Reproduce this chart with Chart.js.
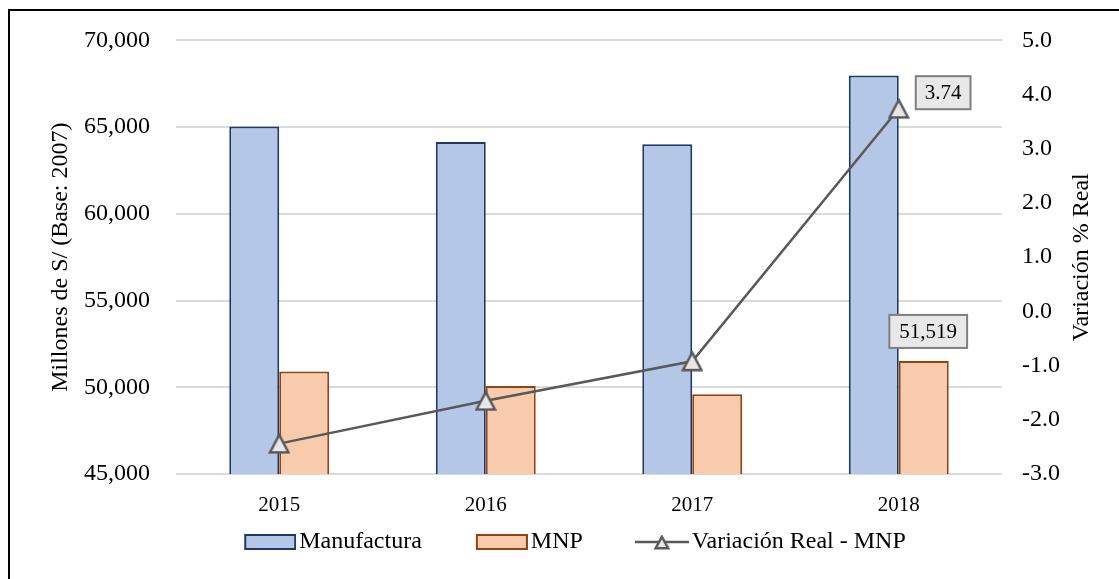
<!DOCTYPE html>
<html>
<head>
<meta charset="utf-8">
<script src="https://cdn.jsdelivr.net/npm/chart.js@4"></script>
<style>
  html, body { margin: 0; padding: 0; background: #fff; overflow: hidden; }
  #wrap { position: relative; width: 1119px; height: 579px; }
  #frame { position: absolute; left: 8px; top: 9px; width: 1200px; height: 700px;
           border-left: 2px solid #000; border-top: 2px solid #000; pointer-events: none; }
  #chart { position: absolute; left: 0; top: 0; }
</style>
</head>
<body>
<div id="wrap">
  <canvas id="chart" width="1119" height="579"></canvas>
  <div id="frame"></div>
</div>
<script>
var years = ['2015', '2016', '2017', '2018']
var manufactura = [65040, 64140, 64010, 67980]
var mnp = [50910, 50080, 49600, 51519]
var variacion = [-2.44, -1.65, -0.92, 3.74]

var leftTicks = [45000, 70000, 5000]   // min, max, step
var rightTicks = [-3, 5, 1]

var serif = '"Liberation Serif", "Times New Roman", serif'
Chart.defaults.font.family = serif
Chart.defaults.color = '#000'

var blueFill = '#b4c7e7', blueLine = '#203864'
var orangeFill = '#f8cbad', orangeLine = '#8f4413'
var lineGray = '#595959', markerFill = '#e7e7e7'

// triangle marker, centred on its bounding box
function makeTriangle(w, h, lw){
    var c = document.createElement('canvas')
    c.width = w; c.height = h
    var g = c.getContext('2d')
    var p = lw / 2 + 0.5
    g.beginPath()
    g.moveTo(w / 2, p)
    g.lineTo(w - p, h - p)
    g.lineTo(p, h - p)
    g.closePath()
    g.fillStyle = markerFill
    g.fill()
    g.lineWidth = lw
    g.lineJoin = 'miter'
    g.strokeStyle = lineGray
    g.stroke()
    return c
}
var marker = makeTriangle(22, 21, 2.5)

// legend icons: drawn on the right side of a wider canvas so the
// text sits close to the swatch
var ICON_W = 105
function boxIcon(fill, stroke){
    var c = document.createElement('canvas')
    c.width = ICON_W; c.height = 18
    var g = c.getContext('2d')
    g.fillStyle = fill
    g.fillRect(ICON_W - 52, 1, 52, 16)
    g.lineWidth = 2
    g.strokeStyle = stroke
    g.strokeRect(ICON_W - 51, 2, 50, 14)
    return c
}
function lineIcon(){
    var c = document.createElement('canvas')
    c.width = ICON_W; c.height = 20
    var g = c.getContext('2d')
    g.strokeStyle = lineGray
    g.lineWidth = 2.5
    g.beginPath()
    g.moveTo(ICON_W - 54, 10)
    g.lineTo(ICON_W, 10)
    g.stroke()
    var t = makeTriangle(16, 15, 2.5)
    g.drawImage(t, ICON_W - 27 - 8, 3)
    return c
}
var legendIcons = [boxIcon(blueFill, blueLine), boxIcon(orangeFill, orangeLine), lineIcon()]

function labelBox(ctx, text, left, cy, padX){
    ctx.save()
    ctx.font = '21px ' + serif
    var w = ctx.measureText(text).width + padX * 2
    var h = 33
    ctx.fillStyle = '#e8e8e8'
    ctx.fillRect(left, cy - h / 2, w, h)
    ctx.lineWidth = 2
    ctx.strokeStyle = '#7f7f7f'
    ctx.strokeRect(left, cy - h / 2, w, h)
    ctx.fillStyle = '#000'
    ctx.textAlign = 'left'
    ctx.textBaseline = 'middle'
    ctx.fillText(text, left + padX, cy + 1)
    ctx.restore()
    return w
}

var valueLabels = {
    id: 'valueLabels',
    afterDatasetsDraw: function(chart){
        var ctx = chart.ctx
        var pt = chart.getDatasetMeta(2).data[3]
        labelBox(ctx, variacion[3].toFixed(2), pt.x + 17, pt.y - 16, 9)

        var bar = chart.getDatasetMeta(1).data[3]
        var txt = mnp[3].toLocaleString('en-US')
        ctx.save()
        ctx.font = '21px ' + serif
        var w = ctx.measureText(txt).width + 20
        ctx.restore()
        labelBox(ctx, txt, bar.x + 4.5 - w / 2, bar.y - 29.5, 10)
    }
}

// right axis title reads bottom-to-top
var rightTitle = {
    id: 'rightTitle',
    afterDraw: function(chart){
        var a = chart.chartArea
        var ctx = chart.ctx
        ctx.save()
        ctx.translate(a.right + 80, (a.top + a.bottom) / 2)
        ctx.rotate(-Math.PI / 2)
        ctx.font = '24px ' + serif
        ctx.fillStyle = '#000'
        ctx.textAlign = 'center'
        ctx.textBaseline = 'middle'
        ctx.fillText('Variación % Real', 0, 0)
        ctx.restore()
    }
}

var ctx = document.getElementById('chart').getContext('2d')
var chart = new Chart(ctx, {
    type: 'bar',
    data: {
        labels: years,
        datasets: [{
            label: 'Manufactura',
            data: manufactura,
            backgroundColor: blueFill,
            borderColor: blueLine,
            borderWidth: 2,
            borderSkipped: false,
            yAxisID: 'y',
            order: 2
        }, {
            label: 'MNP',
            data: mnp,
            backgroundColor: orangeFill,
            borderColor: orangeLine,
            borderWidth: 2,
            borderSkipped: false,
            yAxisID: 'y',
            order: 2
        }, {
            label: 'Variación Real - MNP',
            type: 'line',
            data: variacion,
            borderColor: lineGray,
            borderWidth: 2.5,
            pointStyle: marker,
            pointRadius: 10,
            fill: false,
            tension: 0,
            yAxisID: 'y1',
            order: 0
        }]
    },
    options: {
        responsive: false,
        animation: false,
        barPercentage: 1,
        categoryPercentage: 0.484,
        layout: { padding: { left: 30, right: 43, top: 39, bottom: 15 } },
        plugins: {
            tooltip: { enabled: false },
            legend: {
                position: 'bottom',
                labels: {
                    usePointStyle: true,
                    pointStyleWidth: 87,
                    padding: 10,
                    font: { size: 24 },
                    color: '#000',
                    generateLabels: function(chart){
                        return chart.data.datasets.map(function(ds, i){
                            return {
                                text: ds.label,
                                datasetIndex: i,
                                pointStyle: legendIcons[i],
                                fillStyle: 'transparent',
                                strokeStyle: 'transparent',
                                lineWidth: 0,
                                hidden: false,
                                fontColor: '#000'
                            }
                        })
                    }
                }
            }
        },
        scales: {
            x: {
                grid: { display: false },
                border: { display: false },
                ticks: { font: { size: 21 }, padding: 11, color: '#000' },
                afterFit: function(s){ s.height = 46 }
            },
            y: {
                position: 'left',
                min: leftTicks[0],
                max: leftTicks[1],
                ticks: {
                    stepSize: leftTicks[2],
                    font: { size: 24 },
                    padding: 26,
                    color: '#000',
                    callback: function(v){ return v.toLocaleString('en-US') }
                },
                grid: { color: '#dadada', lineWidth: 2, drawTicks: false },
                border: { display: false },
                title: {
                    display: true,
                    text: 'Millones de S/ (Base: 2007)',
                    font: { size: 24 },
                    color: '#000',
                    padding: { top: 16, bottom: 4 }
                },
                afterFit: function(s){ s.width = 146 }
            },
            y1: {
                position: 'right',
                min: rightTicks[0],
                max: rightTicks[1],
                ticks: {
                    stepSize: rightTicks[2],
                    font: { size: 24 },
                    padding: 20,
                    color: '#000',
                    callback: function(v){ return v.toFixed(1) }
                },
                grid: { display: false, drawTicks: false },
                border: { display: false },
                afterFit: function(s){ s.width = 74 }
            }
        }
    },
    plugins: [valueLabels, rightTitle]
})
</script>
</body>
</html>
